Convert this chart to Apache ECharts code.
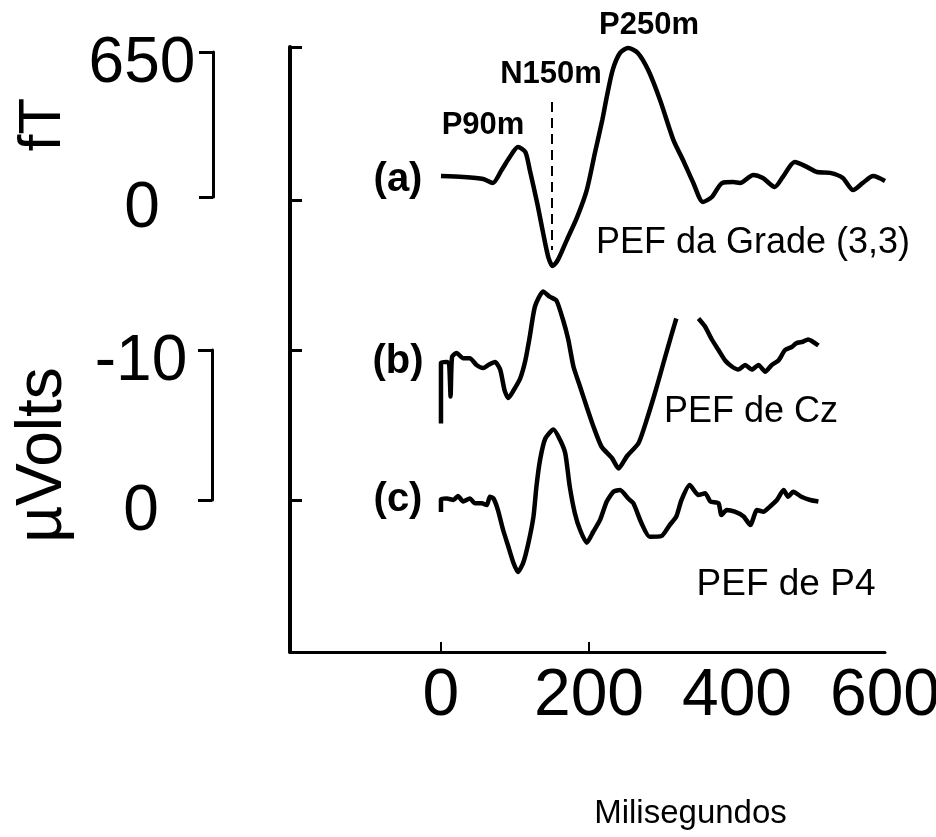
<!DOCTYPE html>
<html>
<head>
<meta charset="utf-8">
<script src="https://cdn.jsdelivr.net/npm/echarts@6/dist/echarts.min.js"></script>
<style>
  html, body { margin: 0; padding: 0; background: #fff; }
  #chart { width: 936px; height: 837px; }
</style>
</head>
<body>
<div id="chart"></div>
<script>
const FONT = '"Liberation Sans", Arial, Helvetica, sans-serif'

// (a) PEF da Grade (3,3)  [ms, fT]
const traceA = [[0,94],[30,90],[57,81],[70,63],[82,121],[93,179],[104,224],[114,202],[120,121],
  [130,-27],[138,-161],[145,-269],[151,-309],[158,-282],[170,-193],[184,-90],[197,31],[208,197],
  [218,345],[224,448],[232,569],[242,646],[253,668],[266,646],[280,569],[296,435],[314,256],
  [327,166],[341,63],[354,-22],[366,0],[380,63],[395,67],[404,63],[422,99],[435,85],[451,45],
  [462,90],[478,157],[495,134],[508,112],[526,108],[543,85],[557,31],[570,63],[584,94],[600,72]]

// (b) PEF de Cz  [ms, µV]  (null: trace runs off the top)
const traceB = [[0,-5.1],[0,-9.15],[8,-9.2],[11,-9.1],[13,-6.9],[15,-9.55],[21,-9.8],[30,-9.45],
  [39,-9.45],[48,-9.0],[57,-8.8],[64,-9.0],[73,-9.2],[80,-8.7],[86,-7.3],[91,-6.8],[98,-7.3],
  [107,-8.1],[114,-9.3],[120,-10.9],[127,-12.9],[138,-13.9],[147,-13.55],[156,-13.3],[165,-12.0],
  [172,-10.7],[179,-8.9],[188,-7.55],[197,-6.2],[206,-4.9],[217,-3.55],[231,-2.8],[240,-2.1],
  [251,-2.9],[267,-3.8],[279,-5.5],[291,-7.45],[303,-9.55],[312,-11.1],[318,-12.1],[333,null],
  [348,-12.1],[357,-11.55],[366,-10.7],[375,-10.0],[384,-9.3],[393,-8.9],[402,-8.7],[411,-9.0],
  [420,-8.7],[429,-9.0],[438,-8.55],[447,-9.0],[456,-9.3],[465,-10.0],[474,-10.2],[480,-10.45],
  [489,-10.55],[496,-10.7],[510,-10.3]]

// (c) PEF de P4  [ms, µV]
const traceC = [[0,0.8],[0,-0.05],[8,-0.1],[17,0],[23,-0.27],[30,0.1],[39,-0.1],[46,0.22],
  [55,0.22],[62,0.33],[66,-0.22],[71,-0.1],[77,0.67],[84,2.0],[91,3.1],[98,4.2],[104,4.8],
  [111,4.2],[118,2.9],[125,1.1],[129,-0.9],[134,-2.7],[141,-4.1],[152,-4.7],[161,-4.0],
  [168,-3.1],[174,-0.9],[181,0.9],[188,2.0],[197,2.85],[206,2.1],[215,1.33],[224,0.1],
  [233,-0.55],[242,-0.67],[253,-0.1],[260,0.22],[271,1.55],[282,2.45],[298,2.4],[309,1.67],
  [318,1.1],[325,0],[336,-1.0],[348,-0.33],[357,-0.45],[364,0.1],[375,0.22],[379,1.0],
  [386,0.67],[397,0.78],[409,1.1],[418,1.67],[427,0.67],[436,0.78],[442,0.55],[454,0],
  [463,-0.67],[469,-0.22],[476,-0.55],[487,-0.22],[499,0],[510,0.1]]

const xLabels = [0, 200, 400, 600]
const xTicks = [0, 200]
const uVTicks = [-20, -10, 0]
const n150 = 150            // ms of the dashed N150m marker
const n150Span = [426, -238] // fT extent of the marker

// page geometry (px) taken from the figure
const frame = { left: 290, right: 885, top: 47, bottom: 652 }
const xMin = -204, xMax = 600
const fTpx = { zero: 197, top: 52 }    // rows of 0 fT and 650 fT
const uVpx = { zero: 500, perUnit: 15 } // row of 0 µV, px per µV

const uMin = (frame.top - uVpx.zero) / uVpx.perUnit
const uMax = (frame.bottom - uVpx.zero) / uVpx.perUnit
const fPerPx = 650 / (fTpx.zero - fTpx.top)
const fMax = (fTpx.zero - frame.top) * fPerPx
const fMin = (fTpx.zero - frame.bottom) * fPerPx

const W = 936, H = 837
const myChart = echarts.init(document.getElementById('chart'))

const lineStyle = { color: '#000', width: 4.5 }
const barAxis = {
  axisLine: { show: true, lineStyle: { color: '#000', width: 3 } },
  axisTick: { show: true, length: 14, lineStyle: { color: '#000', width: 3 } },
  // labels sit a little below their tick, as in the figure
  axisLabel: { color: '#000', fontFamily: FONT, fontSize: 64, align: 'center', margin: 71,
    verticalAlign: 'top', lineHeight: 24 },
  splitLine: { show: false },
  nameLocation: 'middle',
  nameTextStyle: { color: '#000', fontFamily: FONT }
}

function txt(text, x, y, size, bold) {
  return {
    type: 'text', x: x, y: y,
    style: { text: text, fill: '#000', fontFamily: FONT, fontSize: size,
      fontWeight: bold ? 'bold' : 'normal', textAlign: 'center', textVerticalAlign: 'middle' }
  }
}

myChart.setOption({
  backgroundColor: '#fff',
  animation: false,
  grid: [
    { left: frame.left, right: W - frame.right, top: frame.top, bottom: H - frame.bottom, outerBoundsMode: 'none' },
    { left: 213, width: 10, top: fTpx.top, height: fTpx.zero - fTpx.top, outerBoundsMode: 'none' },
    { left: 212, width: 10, top: 350, height: 150, outerBoundsMode: 'none' }
  ],
  xAxis: [{
    gridIndex: 0, type: 'value', min: xMin, max: xMax,
    axisLine: { onZero: false, lineStyle: { color: '#000', width: 3 } },
    axisTick: { show: true, inside: true, length: 10, customValues: xTicks, lineStyle: { color: '#000', width: 2 } },
    axisLabel: { customValues: xLabels, color: '#000', fontFamily: FONT, fontSize: 66, margin: 12 },
    splitLine: { show: false },
    name: 'Milisegundos', nameLocation: 'middle', nameGap: 145,
    nameTextStyle: { color: '#000', fontFamily: FONT, fontSize: 33, padding: [0, 0, 0, 206] }
  }, {
    gridIndex: 1, type: 'value', show: false
  }, {
    gridIndex: 2, type: 'value', show: false
  }],
  yAxis: [{
    gridIndex: 0, type: 'value', inverse: true, min: uMin, max: uMax,
    axisLine: { show: true, onZero: false, lineStyle: { color: '#000', width: 4 } },
    axisTick: { show: true, inside: true, length: 12, customValues: [uMin].concat(uVTicks), lineStyle: { color: '#000', width: 3 } },
    axisLabel: { show: false },
    splitLine: { show: false }
  }, {
    gridIndex: 0, type: 'value', min: fMin, max: fMax, show: false
  }, Object.assign({}, barAxis, {
    gridIndex: 1, type: 'value', min: 0, max: 650, interval: 650,
    name: 'fT', nameGap: 140,
    nameTextStyle: { color: '#000', fontFamily: FONT, fontSize: 60 }
  }), Object.assign({}, barAxis, {
    gridIndex: 2, type: 'value', inverse: true, min: -10, max: 0, interval: 10,
    name: 'µVolts', nameGap: 137,
    nameTextStyle: { color: '#000', fontFamily: FONT, fontSize: 64, padding: [0, 60, 0, 0] }
  })],
  series: [{
    name: 'PEF da Grade (3,3)', type: 'line', xAxisIndex: 0, yAxisIndex: 1,
    data: traceA, showSymbol: false, smooth: 0.25, clip: false, lineStyle: lineStyle,
    markLine: {
      silent: true, symbol: 'none', label: { show: false },
      lineStyle: { color: '#000', width: 2, type: [10, 6] },
      data: [[{ coord: [n150, n150Span[0]] }, { coord: [n150, n150Span[1]] }]]
    }
  }, {
    name: 'PEF de Cz', type: 'line', xAxisIndex: 0, yAxisIndex: 0,
    data: traceB, showSymbol: false, smooth: 0.2, clip: false, connectNulls: false, lineStyle: lineStyle
  }, {
    name: 'PEF de P4', type: 'line', xAxisIndex: 0, yAxisIndex: 0,
    data: traceC, showSymbol: false, smooth: 0.2, clip: false, lineStyle: lineStyle
  }],
  graphic: [
    txt('P90m', 483, 125, 31, true),
    txt('N150m', 551, 74, 31, true),
    txt('P250m', 649, 25, 31, true),
    txt('(a)', 398, 180, 40, true),
    txt('(b)', 398, 362, 40, true),
    txt('(c)', 398, 500, 40, true),
    txt('PEF da Grade (3,3)', 753, 243, 36, false),
    txt('PEF de Cz', 751, 412, 36, false),
    txt('PEF de P4', 786, 585, 37, false)
  ]
})
</script>
</body>
</html>
